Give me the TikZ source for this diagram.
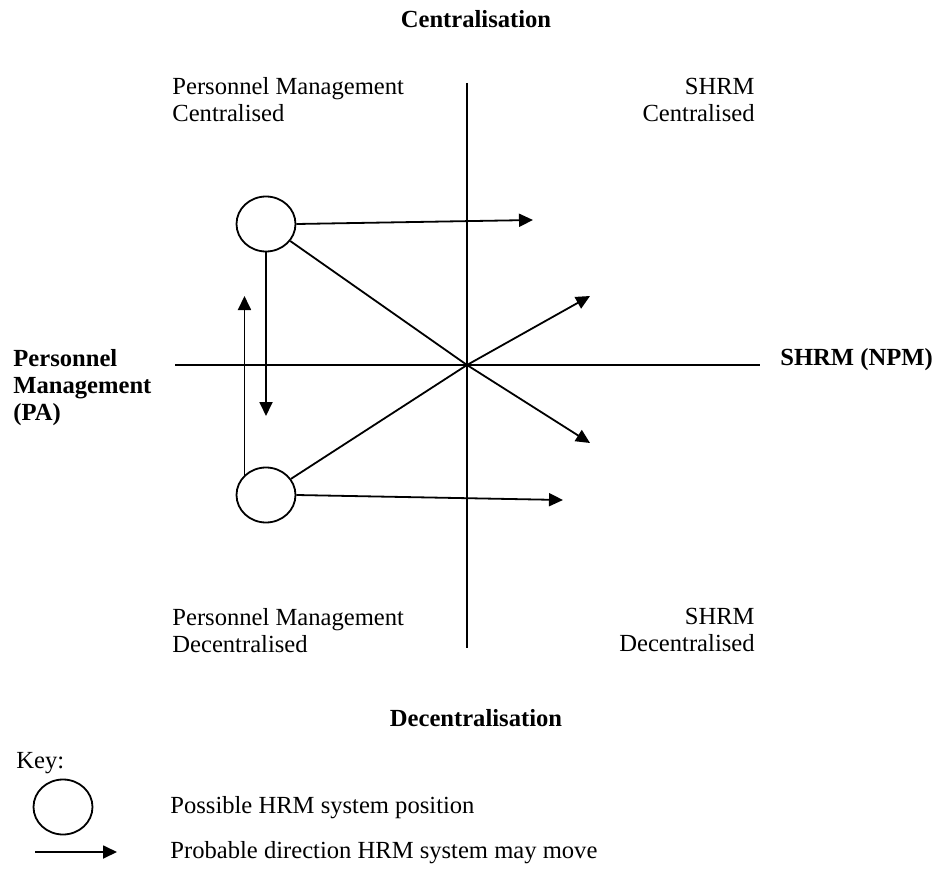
\documentclass[tikz,border=0pt]{standalone}
\usepackage{fontspec}
\setmainfont{Liberation Serif}
\usetikzlibrary{arrows.meta,shapes.geometric}
\begin{document}
\begin{tikzpicture}[x=0.5pt,y=-0.5pt,
  ln/.style={line width=0.9pt},
  arr/.style={line width=0.9pt,-{Triangle[length=7pt,width=6.5pt]}},
  hrmpos/.style={ellipse, draw, line width=0.9pt, minimum width=29.5pt, minimum height=27.5pt, inner sep=0pt},
  lbl/.style={inner sep=0pt, font=\fontsize{12.3}{13.5}\selectfont},
  blbl/.style={inner sep=0pt, font=\fontsize{12.3}{13.5}\selectfont\bfseries}]
\useasboundingbox (0,0) rectangle (937,888);

% axes
\coordinate (vtop) at (467,83);
\coordinate (vbot) at (467,648);
\coordinate (hl) at (175,365);
\coordinate (hr) at (760,365);
\coordinate (O) at (467,365);
\draw[ln] (vtop) -- (vbot);
\draw[ln] (hl) -- (hr);

% titles
\node[blbl, anchor=base] (tcent) at (476,28) {Centralisation};
\node[blbl, anchor=base] (tdec) at (476,726) {Decentralisation};
\node[blbl, anchor=base west] (pa1) at (13,366) {Personnel};
\node[blbl, anchor=base west] (pa2) at (13,393) {Management};
\node[blbl, anchor=base west] (pa3) at (13,420) {(PA)};
\node[blbl, anchor=base west] (npm) at (780,365) {SHRM (NPM)};

% quadrant labels
\node[lbl, anchor=base west] (q1a) at (172,95) {Personnel Management};
\node[lbl, anchor=base west] (q1b) at (172,122) {Centralised};
\node[lbl, anchor=base east] (q2a) at (755,95) {SHRM};
\node[lbl, anchor=base east] (q2b) at (755,122) {Centralised};
\node[lbl, anchor=base west] (q3a) at (172,625) {Personnel Management};
\node[lbl, anchor=base west] (q3b) at (172,652) {Decentralised};
\node[lbl, anchor=base east] (q4a) at (755,624) {SHRM};
\node[lbl, anchor=base east] (q4b) at (755,651) {Decentralised};

% positions
\node[hrmpos] (c1) at (266,224) {};
\node[hrmpos] (c2) at (266,495) {};

% arrow ends
\coordinate (e1) at (533,220);
\coordinate (e2) at (590,443);
\coordinate (e3) at (590,296);
\coordinate (e4) at (563,500);
\coordinate (e5) at (266,416);
\coordinate (e6) at (245,296);

\draw[arr] (c1.east) -- (e1);
\draw[arr] (c1) -- (O) -- (e2);
\draw[arr] (c2) -- (O) -- (e3);
\draw[arr] (c2.east) -- (e4);
\draw[arr] (c1.south) -- (e5);
\draw[arr] (c2.137) -- (c2.137 |- e6);

% key
\node[lbl, anchor=base west] (key) at (16,768) {Key:};
\node[hrmpos] (kc) at (63,807) {};
\node[lbl, anchor=base west] (kct) at (170,813) {Possible HRM system position};
\coordinate (ka) at (35,852);
\coordinate (kb) at (117,852);
\draw[arr] (ka) -- (kb);
\node[lbl, anchor=base west] (kat) at (170,858) {Probable direction HRM system may move};
\end{tikzpicture}
\end{document}
